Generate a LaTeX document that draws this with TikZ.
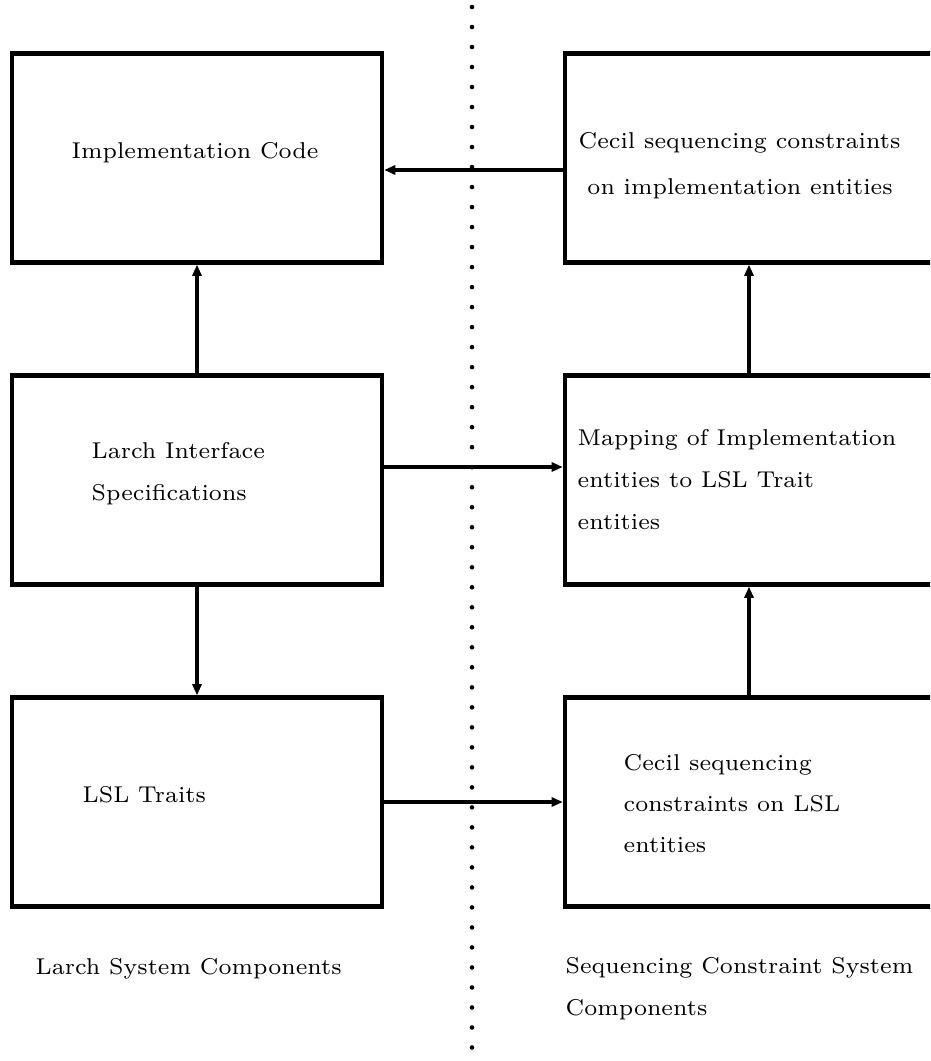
\documentclass[tikz,border=0pt]{standalone}
\usepackage{tikz}
\usetikzlibrary{arrows.meta, positioning}

\begin{document}
\begin{tikzpicture}[x=0.01cm, y=-0.01cm,
  box/.style={draw, line width=1.2pt, minimum width=3.7cm, minimum height=2.09cm, inner sep=0pt},
  rbox/.style={box, minimum width=4cm},
  lbl/.style={anchor=base west, inner sep=0pt, align=left, scale=0.93, transform shape, font=\fontsize{7}{12.8}\selectfont},
  link/.style={line width=0.95pt, -{Triangle[length=3.2pt, width=2.6pt]}}]
  \clip (0,0) rectangle (930,1061);
  \draw[line width=1.3pt, line cap=round, dash pattern=on 0pt off 5.69pt] (472,7) -- (472,1061);

  \node[box] (impl) at (197,158) {};
  \node[box] (spec) at (197,480) {};
  \node[box] (traits) at (197,802) {};
  \node[rbox] (cecilimpl) at (765,158) {};
  \node[rbox] (mapping) at (765,480) {};
  \node[rbox] (cecillsl) at (765,802) {};

  \coordinate (toprow) at (0,170);
  \coordinate (midrow) at (0,467);
  \coordinate (rcol) at (749,0);

  \node[lbl] (impltext) at (71,159) {Implementation Code};
  \node[lbl] (spectext) at (91,500) {Larch Interface\\Specifications};
  \node[lbl] (traitstext) at (82,802) {LSL Traits};
  \node[lbl] (cecilimpltext) at (578,195) {Cecil sequencing constraints\\[1.5pt]\ on implementation entities};
  \node[lbl] (mappingtext) at (577,529) {Mapping of Implementation\\entities to LSL Trait\\entities};
  \node[lbl] (cecillsltext) at (623,852) {Cecil sequencing\\[-0.4pt]constraints on LSL\\[-0.4pt]entities};
  \node[lbl] (larchsys) at (35,974) {Larch System Components};
  \node[lbl] (seqsys) at (565,1015) {Sequencing Constraint System\\Components};

  \draw[link] (cecilimpl.west |- toprow) -- (impl.east |- toprow);
  \draw[link] (spec) -- (impl);
  \draw[link] (spec) -- (traits);
  \draw[link] (spec.east |- midrow) -- (mapping.west |- midrow);
  \draw[link] (mapping.north -| rcol) -- (cecilimpl.south -| rcol);
  \draw[link] (cecillsl.north -| rcol) -- (mapping.south -| rcol);
  \draw[link] (traits) -- (cecillsl.west |- traits);
\end{tikzpicture}
\end{document}
